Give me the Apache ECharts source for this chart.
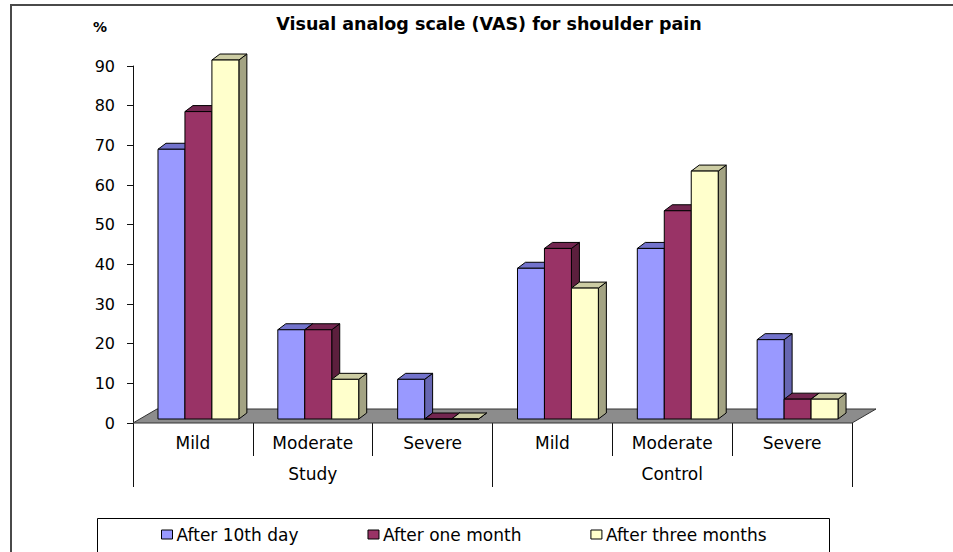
<!DOCTYPE html>
<html>
<head>
<meta charset="utf-8">
<script src="https://cdn.jsdelivr.net/npm/echarts@6/dist/echarts.min.js"></script>
<style>html,body{margin:0;padding:0;background:#fff;}#chart{width:953px;height:552px;}</style>
</head>
<body>
<div id="chart"></div>
<script>
// ---- data ----
const severityLabels = ['Mild', 'Moderate', 'Severe', 'Mild', 'Moderate', 'Severe'];
const groupLabels = ['Study', 'Control'];
const seriesNames = ['After 10th day', 'After one month', 'After three months'];
const after10thDay = [68, 22.5, 10, 38, 43, 20];
const afterOneMonth = [77.5, 22.5, 0, 43, 52.5, 5];
const afterThreeMonths = [90.5, 10, 0, 33, 62.5, 5];
const yTicks = [0, 10, 20, 30, 40, 50, 60, 70, 80, 90];

// ---- styles ----
const FONT = 'DejaVu Sans';
const faces = [
  { front: '#9999FF', top: '#7373CC', side: '#6666B3' },
  { front: '#993366', top: '#732650', side: '#5C1F3D' },
  { front: '#FFFFCC', top: '#CCCCA3', side: '#A3A383' }
];

function bar3D(pos) {
  const c = faces[pos];
  return function (params, api) {
    const i = api.value(0), v = api.value(1);
    const base = api.coord([i, 0]);
    const top = api.coord([i, v]);
    const band = api.size([1, 0])[0];
    const bw = band * 0.225;
    const shiftX = band * 0.046, shiftY = -4;
    const x0 = base[0] + shiftX + (pos - 1.5) * bw;
    const yb = base[1] + shiftY, yt = top[1] + shiftY;
    const dx = 8, dy = -6;
    const st = { stroke: '#000', lineWidth: 1 };
    return {
      type: 'group',
      children: [
        { type: 'polygon', shape: { points: [[x0 + bw, yb], [x0 + bw + dx, yb + dy], [x0 + bw + dx, yt + dy], [x0 + bw, yt]] },
          style: Object.assign({ fill: c.side }, st) },
        { type: 'polygon', shape: { points: [[x0, yt], [x0 + bw, yt], [x0 + bw + dx, yt + dy], [x0 + dx, yt + dy]] },
          style: Object.assign({ fill: c.top }, st) },
        { type: 'rect', shape: { x: x0, y: yt, width: bw, height: yb - yt },
          style: Object.assign({ fill: c.front }, st) }
      ]
    };
  };
}

function floorItem(params, api) {
  const cs = params.coordSys;
  const y0 = api.coord([0, 0])[1];
  const x = cs.x, w = cs.width, ddx = 24, ddy = -14;
  return {
    type: 'polygon',
    shape: { points: [[x, y0], [x + w, y0], [x + w + ddx, y0 + ddy], [x + ddx, y0 + ddy]] },
    style: { fill: '#8C8C8C', stroke: '#333', lineWidth: 1 }
  };
}

const seriesValues = [after10thDay, afterOneMonth, afterThreeMonths];

const chart = echarts.init(document.getElementById('chart'), null, { renderer: 'svg' });
chart.setOption({
  animation: false,
  backgroundColor: '#fff',
  textStyle: { fontFamily: FONT },
  grid: { left: 133, right: 101, top: 66, bottom: 129, containLabel: false },
  xAxis: [
    {
      type: 'category', data: severityLabels, position: 'bottom', boundaryGap: true,
      axisLine: { show: false },
      axisTick: { show: true, interval: 0, length: 33, lineStyle: { color: '#111', width: 1 } },
      axisLabel: { interval: 0, margin: 11, fontSize: 17, color: '#000', fontFamily: FONT }
    },
    {
      type: 'category', data: groupLabels, position: 'bottom', boundaryGap: true,
      axisLine: { show: false },
      axisTick: { show: true, interval: 0, length: 64, lineStyle: { color: '#111', width: 1 } },
      axisLabel: { interval: 0, margin: 42, fontSize: 17, color: '#000', fontFamily: FONT }
    }
  ],
  yAxis: {
    type: 'value', min: yTicks[0], max: yTicks[yTicks.length - 1], interval: yTicks[1] - yTicks[0],
    axisLine: { show: true, lineStyle: { color: '#111', width: 1 } },
    axisTick: { show: true, length: 6, lineStyle: { color: '#111' } },
    splitLine: { show: false },
    axisLabel: { margin: 18, fontSize: 16, color: '#000', fontFamily: FONT }
  },
  legend: {
    data: seriesNames, left: 161, top: 526, padding: 0, itemGap: 69,
    icon: 'rect', itemWidth: 11, itemHeight: 9,
    itemStyle: { borderColor: '#000', borderWidth: 1 },
    textStyle: { fontSize: 17, color: '#000', fontFamily: FONT, padding: [0, 0, 0, -1] }
  },
  graphic: [
    { type: 'rect', shape: { x: 11, y: 5, width: 1000, height: 600 }, style: { fill: 'none', stroke: '#4a4a4a', lineWidth: 2 }, silent: true },
    { type: 'rect', shape: { x: 97.5, y: 518.5, width: 732, height: 60 }, style: { fill: 'none', stroke: '#000', lineWidth: 1 }, silent: true, z: -1 },
    { type: 'text', x: 489, y: 24, style: { text: 'Visual analog scale (VAS) for shoulder pain', fontFamily: FONT, fontWeight: 'bold', fontSize: 17.5, fill: '#000', textAlign: 'center', textVerticalAlign: 'middle' } },
    { type: 'text', x: 100, y: 27, style: { text: '%', fontFamily: FONT, fontWeight: 'bold', fontSize: 14, fill: '#000', textAlign: 'center', textVerticalAlign: 'middle' } }
  ],
  series: [
    { type: 'custom', name: '_floor', renderItem: floorItem, data: [[0, 0]], z: 1, silent: true }
  ].concat(seriesNames.map((name, k) => ({
    type: 'custom', name: name, z: 2 + k,
    itemStyle: { color: faces[k].front, borderColor: '#000', borderWidth: 1 },
    renderItem: bar3D(k),
    data: seriesValues[k].map((v, i) => [i, v])
  })))
});
</script>
</body>
</html>
